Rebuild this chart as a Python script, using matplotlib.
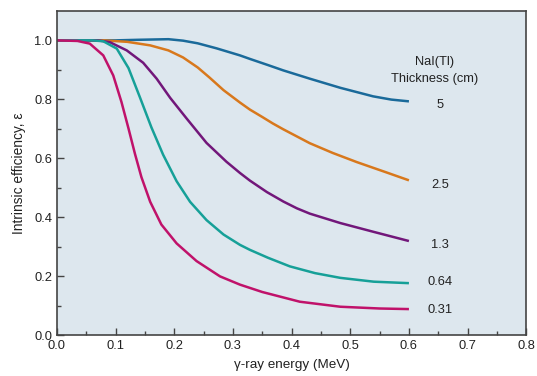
import numpy as np
import matplotlib.pyplot as plt

# NaI(Tl) intrinsic efficiency vs gamma-ray energy
e_5 = [0, 0.10, 0.14, 0.19, 0.215, 0.24, 0.272, 0.312, 0.329, 0.36, 0.386, 0.431, 0.483, 0.539, 0.57, 0.60]
eff_5 = [1.0, 1.0, 1.002, 1.004, 0.999, 0.99, 0.973, 0.949, 0.937, 0.916, 0.898, 0.870, 0.839, 0.810, 0.799, 0.793]

e_25 = [0, 0.08, 0.12, 0.159, 0.19, 0.215, 0.24, 0.26, 0.284, 0.312, 0.329, 0.35, 0.368, 0.386, 0.431, 0.47, 0.511, 0.56, 0.60]
eff_25 = [1.0, 1.0, 0.995, 0.983, 0.966, 0.942, 0.908, 0.874, 0.831, 0.789, 0.765, 0.74, 0.718, 0.698, 0.651, 0.618, 0.587, 0.553, 0.525]

e_13 = [0, 0.07, 0.09, 0.119, 0.147, 0.17, 0.193, 0.221, 0.255, 0.289, 0.312, 0.329, 0.358, 0.386, 0.409, 0.431, 0.483, 0.54, 0.60]
eff_13 = [1.0, 1.0, 0.994, 0.966, 0.924, 0.870, 0.805, 0.735, 0.652, 0.588, 0.550, 0.524, 0.485, 0.453, 0.430, 0.412, 0.38, 0.35, 0.319]

e_064 = [0, 0.06, 0.079, 0.102, 0.122, 0.142, 0.161, 0.181, 0.204, 0.227, 0.255, 0.284, 0.312, 0.329, 0.36, 0.397, 0.44, 0.483, 0.54, 0.60]
eff_064 = [1.0, 1.0, 0.997, 0.972, 0.906, 0.804, 0.705, 0.612, 0.522, 0.452, 0.39, 0.341, 0.306, 0.289, 0.262, 0.233, 0.21, 0.194, 0.181, 0.176]

e_031 = [0, 0.035, 0.056, 0.079, 0.096, 0.110, 0.122, 0.133, 0.144, 0.159, 0.178, 0.204, 0.238, 0.278, 0.312, 0.35, 0.414, 0.483, 0.55, 0.60]
eff_031 = [1.0, 0.998, 0.989, 0.949, 0.881, 0.791, 0.701, 0.615, 0.536, 0.452, 0.375, 0.311, 0.251, 0.199, 0.171, 0.146, 0.113, 0.096, 0.09, 0.088]

labels = ['5', '2.5', '1.3', '0.64', '0.31']
label_y = [0.78, 0.508, 0.305, 0.18, 0.085]
colors = ['#1a6a9a', '#d8781c', '#72177a', '#16a098', '#c0126a']

plt.rcParams['font.family'] = ['Liberation Sans', 'DejaVu Sans']
fs = 9.3

fig = plt.figure(figsize=(5.37, 3.76), dpi=100)
ax = fig.add_axes([0.106, 0.109, 0.874, 0.862])
ax.set_facecolor('#dde7ee')

curves = [(e_5, eff_5), (e_25, eff_25), (e_13, eff_13), (e_064, eff_064), (e_031, eff_031)]
for (x, y), c in zip(curves, colors):
    ax.plot(x, y, color=c, lw=1.8, solid_joinstyle='round', solid_capstyle='butt')

for lab, yy in zip(labels, label_y):
    ax.text(0.653, yy, lab, ha='center', va='center', fontsize=fs, color='#222222')
ax.text(0.644, 0.925, 'NaI(Tl)', ha='center', va='center', fontsize=fs, color='#222222')
ax.text(0.644, 0.868, 'Thickness (cm)', ha='center', va='center', fontsize=fs, color='#222222')

ax.set_xlim(0, 0.8)
ax.set_ylim(0, 1.1)
ax.set_xticks(np.arange(0, 0.81, 0.1))
ax.set_xticks(np.arange(0.05, 0.8, 0.1), minor=True)
ax.set_yticks(np.arange(0, 1.01, 0.2))
ax.set_yticks(np.arange(0.1, 1.1, 0.2), minor=True)
ax.xaxis.set_major_formatter(plt.FormatStrFormatter('%.1f'))
ax.yaxis.set_major_formatter(plt.FormatStrFormatter('%.1f'))
ax.tick_params(which='both', direction='in', colors='#444444', labelcolor='#222222',
               labelsize=fs, width=1)
ax.tick_params(which='major', length=5)
ax.tick_params(which='minor', length=3)
for s in ax.spines.values():
    s.set_color('#444444')
    s.set_linewidth(1.2)

ax.set_xlabel('γ-ray energy (MeV)', fontsize=fs + 0.4, color='#222222', labelpad=5)
ax.set_ylabel('Intrinsic efficiency, ε', fontsize=fs + 0.6, color='#222222', labelpad=6)

fig.savefig('out.png', dpi=100)
